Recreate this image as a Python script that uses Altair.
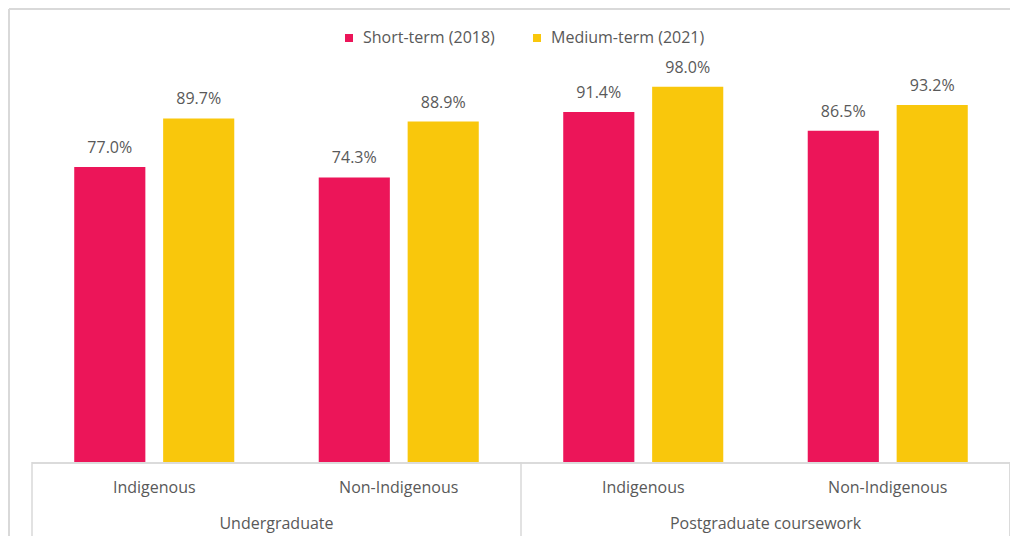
import altair as alt
import pandas as pd

groups = ["Undergraduate", "Undergraduate", "Postgraduate coursework", "Postgraduate coursework"]
subs = ["Indigenous", "Non-Indigenous", "Indigenous", "Non-Indigenous"]
short_term = [77.0, 74.3, 91.4, 86.5]
medium_term = [89.7, 88.9, 98.0, 93.2]
series_names = ["Short-term (2018)", "Medium-term (2021)"]
colors = ["#EC1559", "#F9C70C"]

keys = [g + "|" + s for g, s in zip(groups, subs)]
group_order = list(dict.fromkeys(groups))

rows = []
for k, g, s, a, b in zip(keys, groups, subs, short_term, medium_term):
    rows.append({"key": k, "group": g, "sub": s, "series": series_names[0], "value": a})
    rows.append({"key": k, "group": g, "sub": s, "series": series_names[1], "value": b})
df = pd.DataFrame(rows)
cat_df = pd.DataFrame({"key": keys, "sub": subs})
grp_df = pd.DataFrame({"group": group_order})

W, H = 978, 383
FONT = "Open Sans"
FS = 16
GRAY = "#595959"
LINE = "#D9D9D9"

xk = alt.X("key:N", sort=keys, scale=alt.Scale(paddingInner=0, paddingOuter=0), axis=None)
xo = alt.XOffset("series:N", sort=series_names,
                 scale=alt.Scale(paddingInner=0.2, paddingOuter=0.475))
yv = alt.Y("value:Q", scale=alt.Scale(domain=[0, 100], nice=False), axis=None)

bars = alt.Chart(df).mark_bar().encode(
    x=xk, xOffset=xo, y=yv,
    color=alt.Color("series:N", sort=series_names,
                    scale=alt.Scale(domain=series_names, range=colors),
                    legend=alt.Legend(title=None, orient="none", direction="horizontal",
                                      legendX=309, legendY=-49, symbolType="square",
                                      symbolSize=64, symbolStrokeWidth=0,
                                      labelFont=FONT, labelFontSize=FS, labelColor=GRAY,
                                      columnPadding=34, padding=0, labelOffset=6)),
)

labels = alt.Chart(df).transform_calculate(
    lbl="format(datum.value, '.1f') + '%'"
).mark_text(baseline="bottom", dy=-11, font=FONT, fontSize=FS, color=GRAY).encode(
    x=xk, xOffset=xo, y=yv, text="lbl:N",
)

cats = alt.Chart(cat_df).mark_text(font=FONT, fontSize=FS, color=GRAY, baseline="middle").encode(
    x=xk, y=alt.value(H + 26), text="sub:N")

xg = alt.X("group:N", sort=group_order, scale=alt.Scale(paddingInner=0, paddingOuter=0), axis=None)
grps = alt.Chart(grp_df).mark_text(font=FONT, fontSize=FS, color=GRAY, baseline="middle").encode(
    x=xg, y=alt.value(H + 62), text="group:N")

seps = alt.Chart(grp_df).mark_rule(color=LINE, strokeWidth=1.5).encode(
    x=alt.X("group:N", sort=group_order, bandPosition=0,
            scale=alt.Scale(paddingInner=0, paddingOuter=0), axis=None),
    y=alt.value(H), y2=alt.value(H + 74))
sep_end = alt.Chart(grp_df).mark_rule(color=LINE, strokeWidth=1.5).encode(
    x=alt.value(W), y=alt.value(H), y2=alt.value(H + 74))
base = alt.Chart(grp_df).mark_rule(color=LINE, strokeWidth=1.5).encode(
    x=alt.value(0), x2=alt.value(W), y=alt.value(H + 1))

frame_top = alt.Chart(grp_df).mark_rule(color=LINE, strokeWidth=2).encode(
    x=alt.value(-23), x2=alt.value(W + 12), y=alt.value(-70))
frame_left = alt.Chart(grp_df).mark_rule(color=LINE, strokeWidth=2).encode(
    x=alt.value(-23), y=alt.value(-70), y2=alt.value(H + 74))

chart = alt.layer(frame_top, frame_left, base, seps, sep_end, bars, labels, cats, grps).resolve_scale(
    x="independent"
).properties(
    width=W, height=H,
    padding={"left": 24, "top": 71, "right": 0, "bottom": 74},
    autosize=alt.AutoSizeParams(type="none"),
).configure_view(stroke=None)

chart.save("out.html", embed_options={"renderer": "svg", "actions": False})
